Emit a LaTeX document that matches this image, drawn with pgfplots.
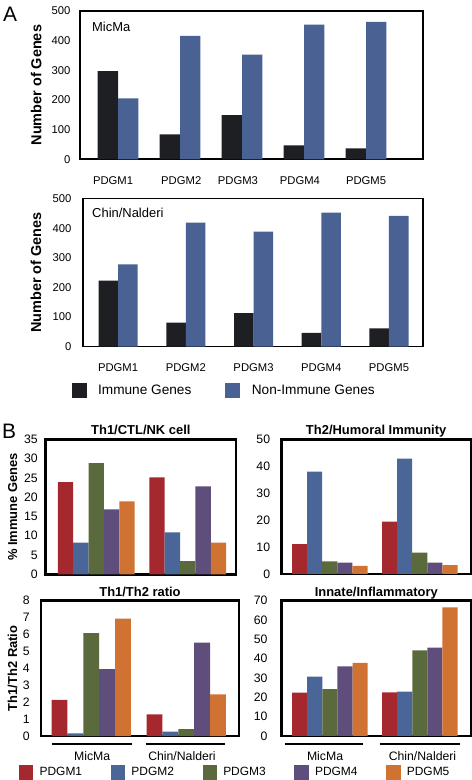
\documentclass[border=0pt]{standalone}
\usepackage{fontspec}
\setmainfont{Liberation Sans}
\usepackage{pgfplots}
\pgfplotsset{compat=1.18}

\definecolor{imm}{HTML}{1E1F22}
\definecolor{nonimm}{HTML}{4A6293}
\definecolor{cR}{HTML}{A4282E}
\definecolor{cB}{HTML}{4A6698}
\definecolor{cG}{HTML}{5B6A3C}
\definecolor{cP}{HTML}{5F4D7B}
\definecolor{cO}{HTML}{D07232}

\pgfplotsset{
  sqA/.style={legend image code/.code={\fill[##1] (0bp,-7.3bp) rectangle (14.8bp,7.3bp);}},
  sqB/.style={legend image code/.code={\fill[##1] (0bp,-7.2bp) rectangle (14.3bp,7.2bp);}},
  base/.style={
    scale only axis, anchor=south west, clip=false, ymin=0,
    axis line style={line width=1.6bp},
    major tick length=0pt, xtick style={draw=none}, ytick style={draw=none},
    /pgf/number format/assume math mode=true,
    yticklabel style={inner sep=0pt},
    xticklabel style={inner sep=0pt, anchor=base},
  },
  panelA/.style={base,
    ymax=500, ytick={0,100,...,500},
    tick label style={font=\fontsize{11.3}{13}\selectfont},
    every axis y label/.style={rotate=90, anchor=center, font=\bfseries\fontsize{14.5}{16}\selectfont},
  },
  panelB/.style={base,
    axis line style={line width=2.6bp},
    tick label style={font=\fontsize{12.3}{14}\selectfont},
    every axis y label/.style={rotate=90, anchor=center, font=\bfseries\fontsize{13}{15}\selectfont},
    every axis title/.style={at={(0.5,1)}, anchor=base, inner sep=0pt, font=\bfseries\fontsize{13}{15}\selectfont},
  },
}

\begin{document}
\begin{tikzpicture}
\path[use as bounding box] (0,0) rectangle (472bp,780bp);

% ---------------- Panel A top (MicMa)
\begin{axis}[panelA,
  at={(80bp,620.7bp)}, width=343bp, height=148.3bp,
  xmin=-0.613, xmax=4.919,
  xtick={-0.08,1.02,1.935,2.935,4.0},
  xticklabels={PDGM1,PDGM2,PDGM3,PDGM4,PDGM5},
  xticklabel style={yshift=-24.8bp},
  yticklabel style={xshift=-9.3bp},
  ylabel={Number of Genes},
  every axis y label/.append style={at={(axis description cs:-0.128,0.5)}},
]
\addplot[ybar, bar width=0.33, bar shift=-0.165, fill=imm, draw=none] coordinates {(0,297) (1,84) (2,149) (3,47) (4,37)};
\addplot[ybar, bar width=0.33, bar shift=0.165, fill=nonimm, draw=none] coordinates {(0,205) (1,416) (2,353) (3,454) (4,463)};
\node[anchor=north west, inner sep=0pt, font=\fontsize{13}{15}\selectfont] at ([xshift=12bp,yshift=-11.4bp]rel axis cs:0,1) {MicMa};
\end{axis}

% ---------------- Panel A bottom (Chin/Nalderi)
\begin{axis}[panelA,
  at={(83bp,433.3bp)}, width=340bp, height=148bp,
  xmin=-0.517, xmax=4.502,
  xtick={0,1,2,3,4},
  xticklabels={PDGM1,PDGM2,PDGM3,PDGM4,PDGM5},
  xticklabel style={yshift=-25.3bp},
  yticklabel style={xshift=-11.3bp},
  ylabel={Number of Genes},
  every axis y label/.append style={at={(axis description cs:-0.138,0.5)}},
  legend columns=2,
  legend style={draw=none, fill=none, inner sep=0pt, outer sep=0pt,
    at={(axis description cs:-0.0332,-0.2946)}, anchor=west,
    font=\fontsize{13.7}{16}\selectfont, row sep=0pt,
    nodes={inner sep=0pt},
    /tikz/every odd column/.style={column sep=11.6bp},
    /tikz/every even column/.style={column sep=34bp}},
]
\addplot[ybar, bar width=0.288, bar shift=-0.144, fill=imm, draw=none, sqA] coordinates {(0,223) (1,81) (2,113) (3,47) (4,62)};
\addplot[ybar, bar width=0.288, bar shift=0.144, fill=nonimm, draw=none, sqA] coordinates {(0,278) (1,419) (2,389) (3,453) (4,442)};
\legend{Immune Genes, Non-Immune Genes}
\node[anchor=north west, inner sep=0pt, font=\fontsize{13}{15}\selectfont] at ([xshift=9bp,yshift=-9.3bp]rel axis cs:0,1) {Chin/Nalderi};
\end{axis}

% ---------------- Panel B top-left
\begin{axis}[panelB,
  at={(45.7bp,205.7bp)}, width=190.3bp, height=135bp,
  xmin=-0.553, xmax=1.527, ymax=35, ytick={0,5,...,35}, xtick=\empty,
  yticklabel style={xshift=-7.7bp},
  title={Th1/CTL/NK cell}, title style={yshift=4.6bp},
  ylabel={\% Immune Genes},
  every axis y label/.append style={at={(axis description cs:-0.174,0.5)}},
]
\addplot[ybar, bar width=0.168, bar shift=-0.336, fill=cR, draw=none] coordinates {(0,23.9) (1,25.1)};
\addplot[ybar, bar width=0.168, bar shift=-0.168, fill=cB, draw=none] coordinates {(0,8.2) (1,10.9)};
\addplot[ybar, bar width=0.168, bar shift=0, fill=cG, draw=none] coordinates {(0,28.8) (1,3.4)};
\addplot[ybar, bar width=0.168, bar shift=0.168, fill=cP, draw=none] coordinates {(0,16.85) (1,22.8)};
\addplot[ybar, bar width=0.168, bar shift=0.336, fill=cO, draw=none] coordinates {(0,18.9) (1,8.2)};
\end{axis}

% ---------------- Panel B top-right
\begin{axis}[panelB,
  at={(281.3bp,206bp)}, width=189.7bp, height=134.7bp,
  xmin=-0.539, xmax=1.569, ymax=50, ytick={0,10,...,50}, xtick=\empty,
  yticklabel style={xshift=-11bp},
  title={Th2/Humoral Immunity}, title style={yshift=4.6bp},
]
\addplot[ybar, bar width=0.168, bar shift=-0.336, fill=cR, draw=none] coordinates {(0,11.1) (1,19.4)};
\addplot[ybar, bar width=0.168, bar shift=-0.168, fill=cB, draw=none] coordinates {(0,38.0) (1,42.8)};
\addplot[ybar, bar width=0.168, bar shift=0, fill=cG, draw=none] coordinates {(0,4.7) (1,7.9)};
\addplot[ybar, bar width=0.168, bar shift=0.168, fill=cP, draw=none] coordinates {(0,4.2) (1,4.2)};
\addplot[ybar, bar width=0.168, bar shift=0.336, fill=cO, draw=none] coordinates {(0,3.0) (1,3.3)};
\end{axis}

% ---------------- Panel B bottom-left
\begin{axis}[panelB,
  at={(41bp,44bp)}, width=198bp, height=135.3bp,
  xmin=-0.529, xmax=1.555, ymax=8, ytick={0,1,...,8},
  xtick={0.01,0.955}, xticklabels={MicMa,Chin/Nalderi},
  xticklabel style={yshift=-24.2bp},
  yticklabel style={xshift=-11bp},
  title={Th1/Th2 ratio}, title style={yshift=4.1bp},
  ylabel={Th1/Th2 Ratio},
  every axis y label/.append style={at={(axis description cs:-0.144,0.5)}},
  legend columns=5,
  legend style={draw=none, fill=none, inner sep=0pt, outer sep=0pt,
    at={(axis description cs:-0.111,-0.27)}, anchor=west,
    font=\fontsize{12}{14}\selectfont, row sep=0pt,
    nodes={inner sep=0pt},
    /tikz/every odd column/.style={column sep=6.3bp},
    /tikz/every even column/.style={column sep=28.7bp}},
]
\addplot[ybar, bar width=0.167, bar shift=-0.334, fill=cR, draw=none, sqB] coordinates {(0,2.13) (1,1.28)};
\addplot[ybar, bar width=0.167, bar shift=-0.167, fill=cB, draw=none, sqB] coordinates {(0,0.16) (1,0.26)};
\addplot[ybar, bar width=0.167, bar shift=0, fill=cG, draw=none, sqB] coordinates {(0,6.09) (1,0.41)};
\addplot[ybar, bar width=0.167, bar shift=0.167, fill=cP, draw=none, sqB] coordinates {(0,3.96) (1,5.52)};
\addplot[ybar, bar width=0.167, bar shift=0.334, fill=cO, draw=none, sqB] coordinates {(0,6.94) (1,2.46)};
\legend{PDGM1,PDGM2,PDGM3,PDGM4,PDGM5}
\draw[line width=2.5bp] ([yshift=-8bp]axis cs:-0.414,0) -- ([yshift=-8bp]axis cs:0.425,0);
\draw[line width=2.5bp] ([yshift=-8bp]axis cs:0.576,0) -- ([yshift=-8bp]axis cs:1.408,0);
\end{axis}

% ---------------- Panel B bottom-right
\begin{axis}[panelB,
  at={(281.7bp,44bp)}, width=189.3bp, height=135.3bp,
  xmin=-0.535, xmax=1.569, ymax=70, ytick={0,10,...,70},
  xtick={-0.053,1.03}, xticklabels={MicMa,Chin/Nalderi},
  xticklabel style={yshift=-24.2bp},
  yticklabel style={xshift=-14bp},
  title={Innate/Inflammatory}, title style={yshift=4.1bp},
]
\addplot[ybar, bar width=0.168, bar shift=-0.336, fill=cR, draw=none] coordinates {(0,22.4) (1,22.6)};
\addplot[ybar, bar width=0.168, bar shift=-0.168, fill=cB, draw=none] coordinates {(0,30.7) (1,22.9)};
\addplot[ybar, bar width=0.168, bar shift=0, fill=cG, draw=none] coordinates {(0,24.3) (1,44.3)};
\addplot[ybar, bar width=0.168, bar shift=0.168, fill=cP, draw=none] coordinates {(0,36.0) (1,45.7)};
\addplot[ybar, bar width=0.168, bar shift=0.336, fill=cO, draw=none] coordinates {(0,37.8) (1,66.6)};
\draw[line width=2.5bp] ([yshift=-8bp]axis cs:-0.498,0) -- ([yshift=-8bp]axis cs:0.37,0);
\draw[line width=2.5bp] ([yshift=-8bp]axis cs:0.557,0) -- ([yshift=-8bp]axis cs:1.447,0);
\end{axis}

% panel letters
\node[anchor=base west, inner sep=0pt, font=\fontsize{21}{24}\selectfont] at (3bp,758.3bp) {A};
\node[anchor=base west, inner sep=0pt, font=\fontsize{21}{24}\selectfont] at (2bp,341.7bp) {B};
\end{tikzpicture}
\end{document}
